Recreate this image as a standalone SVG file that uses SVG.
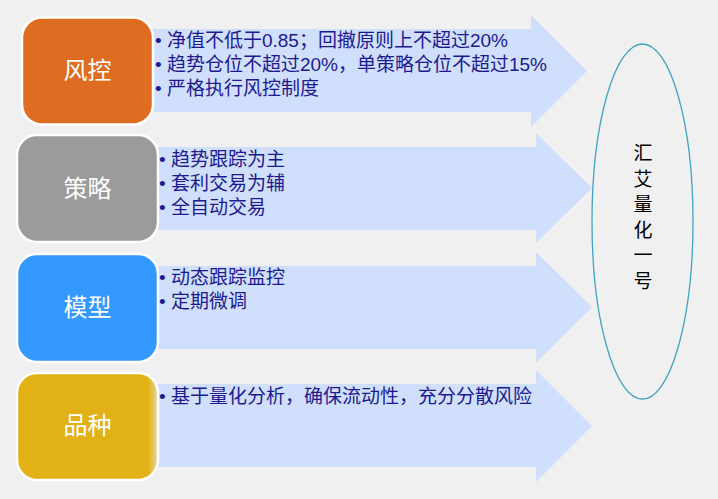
<svg xmlns="http://www.w3.org/2000/svg" width="718" height="499" viewBox="0 0 718 499">
<defs>
<style>
.arrow{fill:#CFDFFC}
.box{stroke:#FFFFFF;stroke-width:2.5}
.lbl{font-family:"Liberation Sans","Noto Sans CJK SC",sans-serif;font-size:24px;fill:#FFFFFF;text-anchor:middle}
.txt{font-family:"Liberation Sans","Noto Sans CJK SC",sans-serif;font-size:19px;fill:#1E1A8E}
.v{font-family:"Liberation Sans","Noto Sans CJK SC",sans-serif;font-size:19px;fill:#000000;text-anchor:middle}
</style>
<linearGradient id="yg" x1="0" y1="0" x2="1" y2="0">
<stop offset="0" stop-color="#E2B116"/>
<stop offset="0.93" stop-color="#E2B116"/>
<stop offset="1" stop-color="#E6D9AA"/>
</linearGradient>
</defs>
<rect width="718" height="499" fill="#F0F0F0"/>
<g id="connectors">
<polygon class="arrow" points="150,29 531,29 531,15 587,71 531,127 531,112 150,112"/>
<polygon class="arrow" points="155,147 536,147 536,133 592,188 536,243 536,230 155,230"/>
<polygon class="arrow" points="155,266 536,266 536,252 592,307 536,363 536,349 155,349"/>
<polygon class="arrow" points="155,384 536,384 536,370 592,426 536,482 536,467 155,467"/>
</g>
<g id="node-fengkong">
<rect class="box" x="22" y="17.5" width="131" height="107" rx="20" fill="#DE6D22"/>
<text class="lbl" x="87.5" y="79">风控</text>
<text class="txt" x="155" y="47">• 净值不低于0.85；回撤原则上不超过20%</text>
<text class="txt" x="155" y="71">• 趋势仓位不超过20%，单策略仓位不超过15%</text>
<text class="txt" x="155" y="95">• 严格执行风控制度</text>
</g>
<g id="node-celue">
<rect class="box" x="17" y="135" width="141" height="107" rx="20" fill="#9B9B9B"/>
<text class="lbl" x="87.5" y="197">策略</text>
<text class="txt" x="159" y="166">• 趋势跟踪为主</text>
<text class="txt" x="159" y="190">• 套利交易为辅</text>
<text class="txt" x="159" y="214">• 全自动交易</text>
</g>
<g id="node-moxing">
<rect class="box" x="17" y="254" width="141" height="108" rx="20" fill="#3399FF"/>
<text class="lbl" x="87.5" y="316">模型</text>
<text class="txt" x="159" y="284">• 动态跟踪监控</text>
<text class="txt" x="159" y="308">• 定期微调</text>
</g>
<g id="node-pinzhong">
<rect class="box" x="17" y="373" width="141" height="107" rx="20" fill="url(#yg)"/>
<text class="lbl" x="87.5" y="434">品种</text>
<text class="txt" x="159" y="403">• 基于量化分析，确保流动性，充分分散风险</text>
</g>
<g id="node-huiai">
<ellipse cx="642.5" cy="221.5" rx="50.5" ry="177.5" fill="none" stroke="#3FA3C4" stroke-width="1.3"/>
<text class="v" x="643" y="160">汇</text>
<text class="v" x="643" y="186">艾</text>
<text class="v" x="643" y="211">量</text>
<text class="v" x="643" y="237">化</text>
<text class="v" x="643" y="262">一</text>
<text class="v" x="643" y="288">号</text>
</g>
</svg>
